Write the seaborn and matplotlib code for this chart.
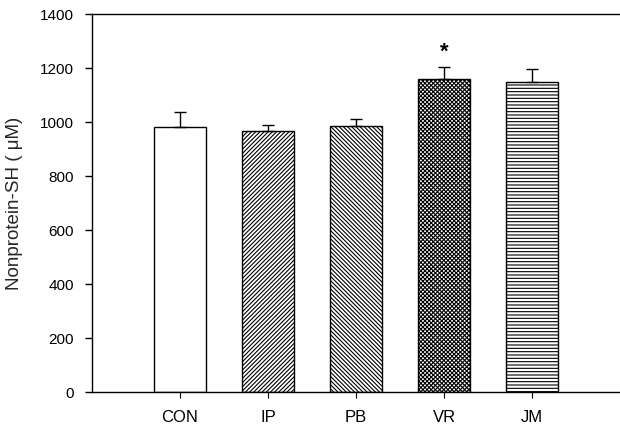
import matplotlib
matplotlib.use('Agg')
import matplotlib.pyplot as plt
import seaborn as sns
import pandas as pd
import numpy as np

sns.set_theme(style='white')
plt.rcParams['font.family'] = ['Liberation Sans', 'DejaVu Sans']
plt.rcParams['hatch.linewidth'] = 0.8

groups = ['CON', 'IP', 'PB', 'VR', 'JM']
means = [980, 965, 985, 1160, 1148]
errors = [58, 23, 25, 45, 48]
hatches = ['', '////////', '\\\\\\\\\\\\\\\\', 'xxxxxxxx', '-----']
significant = [False, False, False, True, False]

df = pd.DataFrame({'group': groups, 'value': means})

fig = plt.figure(figsize=(6.2, 4.3), dpi=100)
ax = fig.add_axes([92 / 620, 38 / 430, 528 / 620, 378 / 430])

sns.barplot(data=df, x='group', y='value', color='white', edgecolor='black',
            linewidth=1, width=0.6, errorbar=None, ax=ax)
for patch, h in zip(ax.patches, hatches):
    patch.set_hatch(h)
    patch.set_facecolor('white')

xs = ax.get_xticks()
ax.errorbar(xs, means, yerr=[np.zeros(len(errors)), errors], fmt='none',
            ecolor='black', elinewidth=1, capsize=4, capthick=1, zorder=3)
for x, m, e, s in zip(xs, means, errors, significant):
    if s:
        ax.text(x, m + e + 15, '*', ha='center', va='bottom', fontsize=16,
                fontweight='bold', color='black')

ax.set_xlim(-1.0, 5.0)
ax.set_ylim(0, 1400)
ax.set_yticks(range(0, 1401, 200))
ax.set_xlabel('')
ax.set_ylabel('Nonprotein-SH ( μM)', fontsize=13.5, labelpad=12)
ax.tick_params(axis='y', which='both', left=True, direction='out', length=5,
               width=1, labelsize=11, colors='black', pad=8)
ax.tick_params(axis='x', bottom=True, direction='out', length=4, width=0.8,
               labelsize=12, colors='black', pad=9)
for side in ['left', 'top', 'bottom']:
    ax.spines[side].set_visible(True)
    ax.spines[side].set_color('black')
    ax.spines[side].set_linewidth(1)
ax.spines['right'].set_visible(False)

fig.savefig('out.png', dpi=100)
